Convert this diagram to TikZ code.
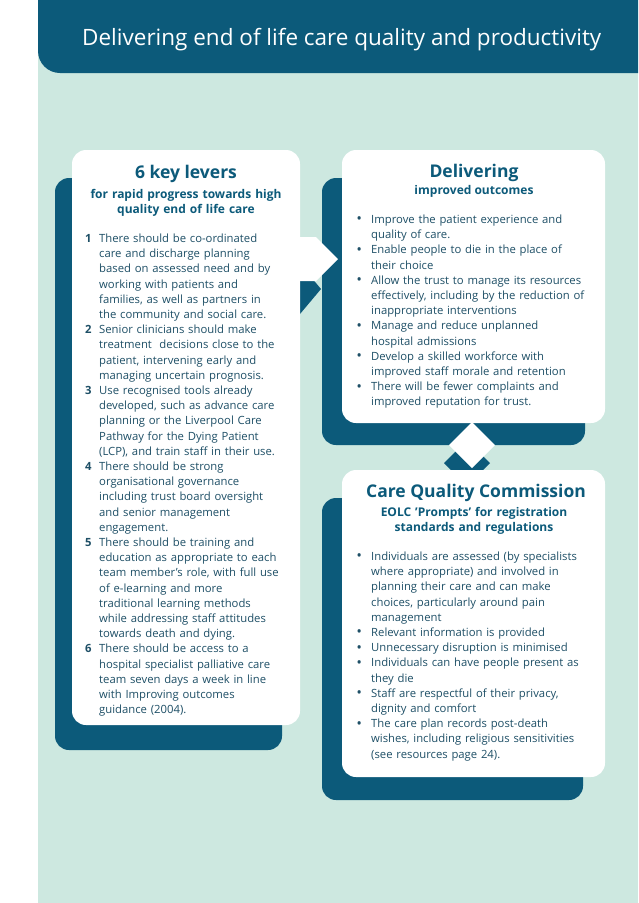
\documentclass[tikz,border=0pt]{standalone}
\usepackage{fontspec}
\setmainfont{Open Sans}
\definecolor{dk}{HTML}{0C5A7A}
\definecolor{bg}{HTML}{CDE8E0}
\definecolor{tx}{HTML}{1E4F66}
\newcommand{\nohy}{\hyphenpenalty=10000 \exhyphenpenalty=10000 }
\newcommand{\itm}[2]{\par\hangindent=14pt\hangafter=1\noindent\makebox[14pt][l]{#1}#2\par}
\newcommand{\bul}{\textbf{\raisebox{0.5pt}{•}}}
\newcommand{\nl}{\newline}
\begin{document}
\begin{tikzpicture}[x=1pt,y=-1pt,
  card/.style={fill=white,rounded corners=14pt},
  shadow/.style={fill=dk,rounded corners=14pt},
  body/.style={anchor=north west,inner sep=0pt,align=left,text=tx,font=\fontsize{11.3}{15.2}\selectfont},
  head/.style={anchor=north,inner sep=0pt,align=center,text=dk,font=\bfseries\fontsize{17.5}{18}\selectfont},
  sub/.style={anchor=north,inner sep=0pt,align=center,text=dk,font=\bfseries\fontsize{12}{15.5}\selectfont}]
\useasboundingbox (0,0) rectangle (638,903);
\fill[bg] (38,0) rectangle (638,903);
\fill[dk] (638,0) -- (38,0) [rounded corners=22pt] -- (38,73) [sharp corners] -- (638,73) -- cycle;
\node[anchor=west,text=white,inner sep=0pt,font=\fontsize{22.5}{24}\selectfont] (title) at (82,40) {Delivering end of life care quality and productivity};
% shadows
\fill[shadow] (55,178) rectangle (282,750);
\fill[shadow] (322,178) rectangle (585,445);
\fill[shadow] (322,498) rectangle (583,800);
\fill[dk] (282,264) -- (300,264) -- (321,289) -- (300,314) -- (282,314) -- cycle;
\fill[dk] (467,440) -- (490,463) -- (467,486) -- (444,463) -- cycle;
% cards
\fill[card] (72,150) rectangle (300,725);
\fill[card] (342,150) rectangle (605,423);
\fill[card] (342,470) rectangle (605,777);
\fill[white] (290,237) -- (316,237) -- (338,259) -- (316,281) -- (290,281) -- cycle;
\fill[white] (472,422) -- (495,445) -- (472,468) -- (449,445) -- cycle;
% left card
\node[head] (h1) at (186,165) {6 key levers};
\node[sub,text width=220pt] (s1) at (186,189) {for rapid progress towards high\\quality end of life care};
\node[body,text width=214pt] (b1) at (85,227) {\nohy
\itm{\textbf{1}}{There should be co-ordinated\nl care and discharge planning\nl based on assessed need and by\nl working with patients and\nl families, as well as partners in\nl the community and social care.}
\itm{\textbf{2}}{Senior clinicians should make\nl treatment\ \ decisions close to the\nl patient, intervening early and\nl managing uncertain prognosis.}
\itm{\textbf{3}}{Use recognised tools already\nl developed, such as advance care\nl planning or the Liverpool Care\nl Pathway for the Dying Patient\nl (LCP), and train staff in their use.}
\itm{\textbf{4}}{There should be strong\nl organisational governance\nl including trust board oversight\nl and senior management\nl engagement.}
\itm{\textbf{5}}{There should be training and\nl education as appropriate to each\nl team member's role, with full use\nl of e-learning and more\nl traditional learning methods\nl while addressing staff attitudes\nl towards death and dying.}
\itm{\textbf{6}}{There should be access to a\nl hospital specialist palliative care\nl team seven days a week in line\nl with Improving outcomes\nl guidance (2004).}};
% top right
\node[head] (h2) at (474,164) {Delivering};
\node[sub] (s2) at (474,185) {improved outcomes};
\node[body,text width=245pt] (b2) at (357,208) {\nohy
\itm{\bul}{Improve the patient experience and\nl quality of care.}
\itm{\bul}{Enable people to die in the place of\nl their choice}
\itm{\bul}{Allow the trust to manage its resources\nl effectively, including by the reduction of\nl inappropriate interventions}
\itm{\bul}{Manage and reduce unplanned\nl hospital admissions}
\itm{\bul}{Develop a skilled workforce with\nl improved staff morale and retention}
\itm{\bul}{There will be fewer complaints and\nl improved reputation for trust.}};
% bottom right
\node[head] (h3) at (476,484) {Care Quality Commission};
\node[sub,text width=240pt] (s3) at (474,507) {EOLC 'Prompts' for registration\\standards and regulations};
\node[body,text width=245pt] (b3) at (357,545) {\nohy
\itm{\bul}{Individuals are assessed (by specialists\nl where appropriate) and involved in\nl planning their care and can make\nl choices, particularly around pain\nl management}
\itm{\bul}{Relevant information is provided}
\itm{\bul}{Unnecessary disruption is minimised}
\itm{\bul}{Individuals can have people present as\nl they die}
\itm{\bul}{Staff are respectful of their privacy,\nl dignity and comfort}
\itm{\bul}{The care plan records post-death\nl wishes, including religious sensitivities\nl (see resources page 24).}};
\end{tikzpicture}
\end{document}
